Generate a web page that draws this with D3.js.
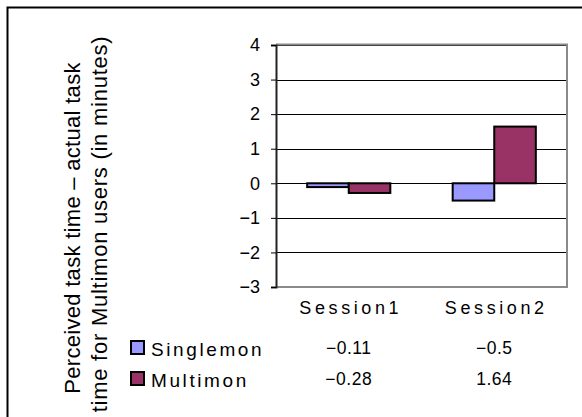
<!DOCTYPE html>
<html>
<head>
<meta charset="utf-8">
<script src="https://cdn.jsdelivr.net/npm/d3@7"></script>
<style>
  html, body { margin: 0; padding: 0; background: #fff; }
  svg { display: block; font-family: "Liberation Sans", Arial, sans-serif; }
</style>
</head>
<body>
<svg id="chart" width="582" height="417"></svg>
<script>
// Chart data
const categories = ["Session1", "Session2"];
const seriesNames = ["Singlemon", "Multimon"];
const singlemon = [-0.11, -0.5];
const multimon = [-0.28, 1.64];
const yTicks = [-3, -2, -1, 0, 1, 2, 3, 4];
const yTitle = ["Perceived task time \u2013 actual task", "time for Multimon users (in minutes)"];

const seriesValues = [singlemon, multimon];
const seriesColors = ["#9999FF", "#993366"];

const svg = d3.select("#chart");

// Outer chart frame
svg.append("rect")
  .attr("x", 7.5).attr("y", 7.5)
  .attr("width", 700).attr("height", 600)
  .attr("fill", "none").attr("stroke", "#000").attr("stroke-width", 2);

// Plot area
const plot = { left: 276, right: 567, top: 45, bottom: 287 };

const y = d3.scaleLinear().domain([-3, 4]).range([plot.bottom, plot.top]);
const x0 = d3.scaleBand().domain(categories)
  .range([plot.left, plot.right])
  .paddingInner(1.5 / 3.5).paddingOuter(0.75 / 3.5);
const x1 = d3.scaleBand().domain(seriesNames).range([0, x0.bandwidth()]);

// Gridlines
svg.append("g")
  .selectAll("line")
  .data(yTicks)
  .join("line")
  .attr("x1", plot.left).attr("x2", plot.right)
  .attr("y1", d => Math.round(y(d)) + 0.5).attr("y2", d => Math.round(y(d)) + 0.5)
  .attr("stroke", "#000").attr("stroke-width", 1);

// Plot area border (top / right / bottom)
svg.append("path")
  .attr("d", `M${plot.left},${plot.top - 0.5}H${plot.right}V${plot.bottom}H${plot.left}`)
  .attr("fill", "none").attr("stroke", "#8a8a8a").attr("stroke-width", 2);

// Bars
seriesValues.forEach((vals, si) => {
  svg.append("g")
    .selectAll("rect")
    .data(vals.map((v, i) => ({ cat: categories[i], v })))
    .join("rect")
    .attr("x", d => x0(d.cat) + x1(seriesNames[si]))
    .attr("width", x1.bandwidth())
    .attr("y", d => Math.min(y(0), y(d.v)))
    .attr("height", d => Math.abs(y(d.v) - y(0)))
    .attr("fill", seriesColors[si])
    .attr("stroke", "#000").attr("stroke-width", 2);
});

// Y axis
const yAxis = d3.axisLeft(y).tickValues(yTicks).tickSize(5).tickPadding(11)
  .tickFormat(d => d < 0 ? "\u2212" + Math.abs(d) : String(d));
const gy = svg.append("g").attr("transform", `translate(${plot.left},0)`).call(yAxis);
gy.select(".domain").attr("stroke", "#222").attr("stroke-width", 2);
gy.selectAll(".tick line").attr("stroke", "#000");
gy.selectAll(".tick text").attr("font-size", 18).attr("fill", "#000")
  .attr("font-family", "'Liberation Sans', Arial, sans-serif");

// Category labels
svg.append("g")
  .selectAll("text")
  .data(categories)
  .join("text")
  .attr("x", d => x0(d) + x0.bandwidth() / 2 + 2)
  .attr("y", 314)
  .attr("text-anchor", "middle")
  .attr("font-size", 18)
  .attr("letter-spacing", 3.6)
  .text(d => d);

// Data table: legend keys + values
const rowY = [356, 387];
const fmt = v => (v < 0 ? "\u2212" : "") + Math.abs(v);
seriesNames.forEach((name, si) => {
  const g = svg.append("g");
  g.append("rect")
    .attr("x", 131).attr("y", rowY[si] - 15)
    .attr("width", 13).attr("height", 13)
    .attr("fill", seriesColors[si]).attr("stroke", "#000").attr("stroke-width", 2);
  g.append("text")
    .attr("x", 151).attr("y", rowY[si])
    .attr("font-size", 19).attr("letter-spacing", 2.6)
    .text(name);
  g.selectAll("text.val")
    .data(seriesValues[si].map((v, i) => ({ cat: categories[i], v })))
    .join("text")
    .attr("class", "val")
    .attr("x", d => x0(d.cat) + x0.bandwidth() / 2)
    .attr("y", rowY[si] - 2)
    .attr("text-anchor", "middle")
    .attr("font-size", 17.5)
    .attr("letter-spacing", 0.5)
    .text(d => fmt(d.v));
});

// Y axis title, two rotated lines
const titleSpacing = [0.3, 0.75];
const titleCenter = [228, 224];
yTitle.forEach((line, i) => {
  svg.append("text")
    .attr("transform", `translate(${80 + i * 27},${titleCenter[i]}) rotate(-90)`)
    .attr("text-anchor", "middle")
    .attr("font-size", 22)
    .attr("letter-spacing", titleSpacing[i])
    .text(line);
});
</script>
</body>
</html>
